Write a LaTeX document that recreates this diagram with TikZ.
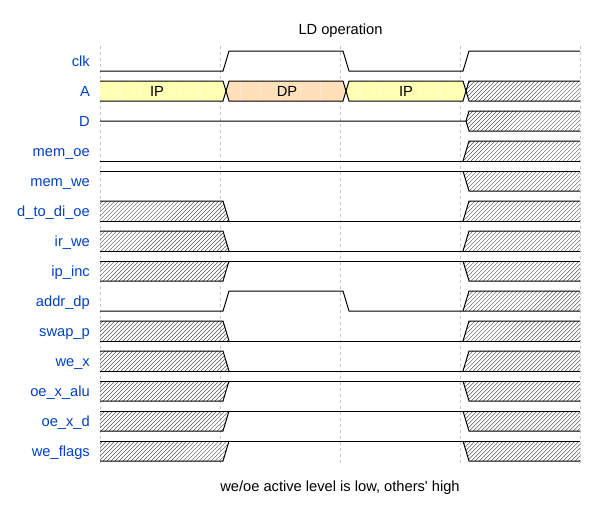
\documentclass[tikz,border=0pt]{standalone}
\usepackage{fontspec}
\setmainfont{Liberation Sans}
\usetikzlibrary{patterns.meta}
\definecolor{wdblue}{HTML}{0041C4}
\definecolor{wdyellow}{HTML}{FFFFB4}
\definecolor{wdorange}{HTML}{FFE0B9}
\tikzset{
  wave/.style={draw=black, line width=1pt},
  hatch/.style={pattern={Lines[angle=45,distance=2.83pt,line width=0.45pt]}, pattern color=black!65},
  lbl/.style={anchor=base east, text=wdblue, inner sep=0pt, font=\fontsize{14.67pt}{17pt}\selectfont},
  txt/.style={anchor=base, text=black, inner sep=0pt, font=\fontsize{14.67pt}{17pt}\selectfont},
  gridline/.style={draw=black!22, line width=0.6pt, dash pattern=on 3pt off 3pt},
  seam/.style={draw=white, opacity=0.35, line width=0.6pt}
}
% x -> low -> x
\newcommand\RowXLX[1]{%
  \fill[hatch] (100,#1) -- (223,#1) -- (229,#1+20) -- (100,#1+20) -- cycle;
  \fill[hatch] (463,#1+20) -- (469,#1) -- (580,#1) -- (580,#1+20) -- cycle;
  \draw[wave] (100,#1) -- (223,#1) -- (229,#1+20);
  \draw[wave] (100,#1+20) -- (580,#1+20);
  \draw[wave] (463,#1+20) -- (469,#1) -- (580,#1);
}
% x -> high -> x
\newcommand\RowXHX[1]{%
  \fill[hatch] (100,#1) -- (229,#1) -- (223,#1+20) -- (100,#1+20) -- cycle;
  \fill[hatch] (463,#1) -- (469,#1+20) -- (580,#1+20) -- (580,#1) -- cycle;
  \draw[wave] (100,#1) -- (580,#1);
  \draw[wave] (100,#1+20) -- (223,#1+20) -- (229,#1);
  \draw[wave] (463,#1) -- (469,#1+20) -- (580,#1+20);
}
\begin{document}
\begin{tikzpicture}[x=1pt,y=-1pt]
\useasboundingbox[fill=white] (0,0) rectangle (600,512);
% grid
\foreach \gx in {100,220,340,460,580}
  \draw[gridline] (\gx,46) -- (\gx,464);
% title and footer
\node[txt] (title) at (340.5,34.5) {LD operation};
\node[txt] (foot) at (340,491.5) {we/oe active level is low, others\textquotesingle{} high};
% labels
\node[lbl] (l0) at (90,66.5) {clk};
\node[lbl] (l1) at (90,96.5) {A};
\node[lbl] (l2) at (90,126.5) {D};
\node[lbl] (l3) at (90,156.5) {mem\_oe};
\node[lbl] (l4) at (90,186.5) {mem\_we};
\node[lbl] (l5) at (90,216.5) {d\_to\_di\_oe};
\node[lbl] (l6) at (90,246.5) {ir\_we};
\node[lbl] (l7) at (90,276.5) {ip\_inc};
\node[lbl] (l8) at (90,306.5) {addr\_dp};
\node[lbl] (l9) at (90,336.5) {swap\_p};
\node[lbl] (l10) at (90,366.5) {we\_x};
\node[lbl] (l11) at (90,396.5) {oe\_x\_alu};
\node[lbl] (l12) at (90,426.5) {oe\_x\_d};
\node[lbl] (l13) at (90,456.5) {we\_flags};
% clk
\draw[wave] (100,71) -- (223,71) -- (229,51) -- (343,51) -- (349,71) -- (463,71) -- (469,51) -- (580,51);
% A
\fill[wdyellow] (100,81) -- (223,81) -- (226,91) -- (223,101) -- (100,101) -- cycle;
\fill[wdorange] (229,81) -- (343,81) -- (346,91) -- (343,101) -- (229,101) -- (226,91) -- cycle;
\fill[wdyellow] (349,81) -- (463,81) -- (466,91) -- (463,101) -- (349,101) -- (346,91) -- cycle;
\fill[hatch] (469,81) -- (580,81) -- (580,101) -- (469,101) -- (466,91) -- cycle;
\foreach \sx in {120,140,160,180,200,240,260,280,300,320,360,380,400,420,440}
  \draw[seam] (\sx,81.5) -- (\sx,100.5);
\draw[wave] (100,81) -- (223,81) -- (229,101) -- (343,101) -- (349,81) -- (463,81) -- (469,101) -- (580,101);
\draw[wave] (100,101) -- (223,101) -- (229,81) -- (343,81) -- (349,101) -- (463,101) -- (469,81) -- (580,81);
\node[txt] (a1) at (157,96.5) {IP};
\node[txt] (a2) at (287,96.5) {DP};
\node[txt] (a3) at (406,96.5) {IP};
% D
\fill[hatch] (466,121) -- (469,111) -- (580,111) -- (580,131) -- (469,131) -- cycle;
\draw[wave] (100,121) -- (466,121) -- (469,111) -- (580,111);
\draw[wave] (466,121) -- (469,131) -- (580,131);
% mem_oe (low -> x)
\fill[hatch] (463,161) -- (469,141) -- (580,141) -- (580,161) -- cycle;
\draw[wave] (100,161) -- (580,161);
\draw[wave] (463,161) -- (469,141) -- (580,141);
% mem_we (high -> x)
\fill[hatch] (463,171) -- (469,191) -- (580,191) -- (580,171) -- cycle;
\draw[wave] (100,171) -- (580,171);
\draw[wave] (463,171) -- (469,191) -- (580,191);
% control rows
\RowXLX{201}
\RowXLX{231}
\RowXHX{261}
% addr_dp
\fill[hatch] (463,311) -- (469,291) -- (580,291) -- (580,311) -- cycle;
\draw[wave] (100,311) -- (223,311) -- (229,291) -- (343,291) -- (349,311) -- (580,311);
\draw[wave] (463,311) -- (469,291) -- (580,291);
\RowXLX{321}
\RowXLX{351}
\RowXHX{381}
\RowXHX{411}
\RowXHX{441}
\end{tikzpicture}
\end{document}
